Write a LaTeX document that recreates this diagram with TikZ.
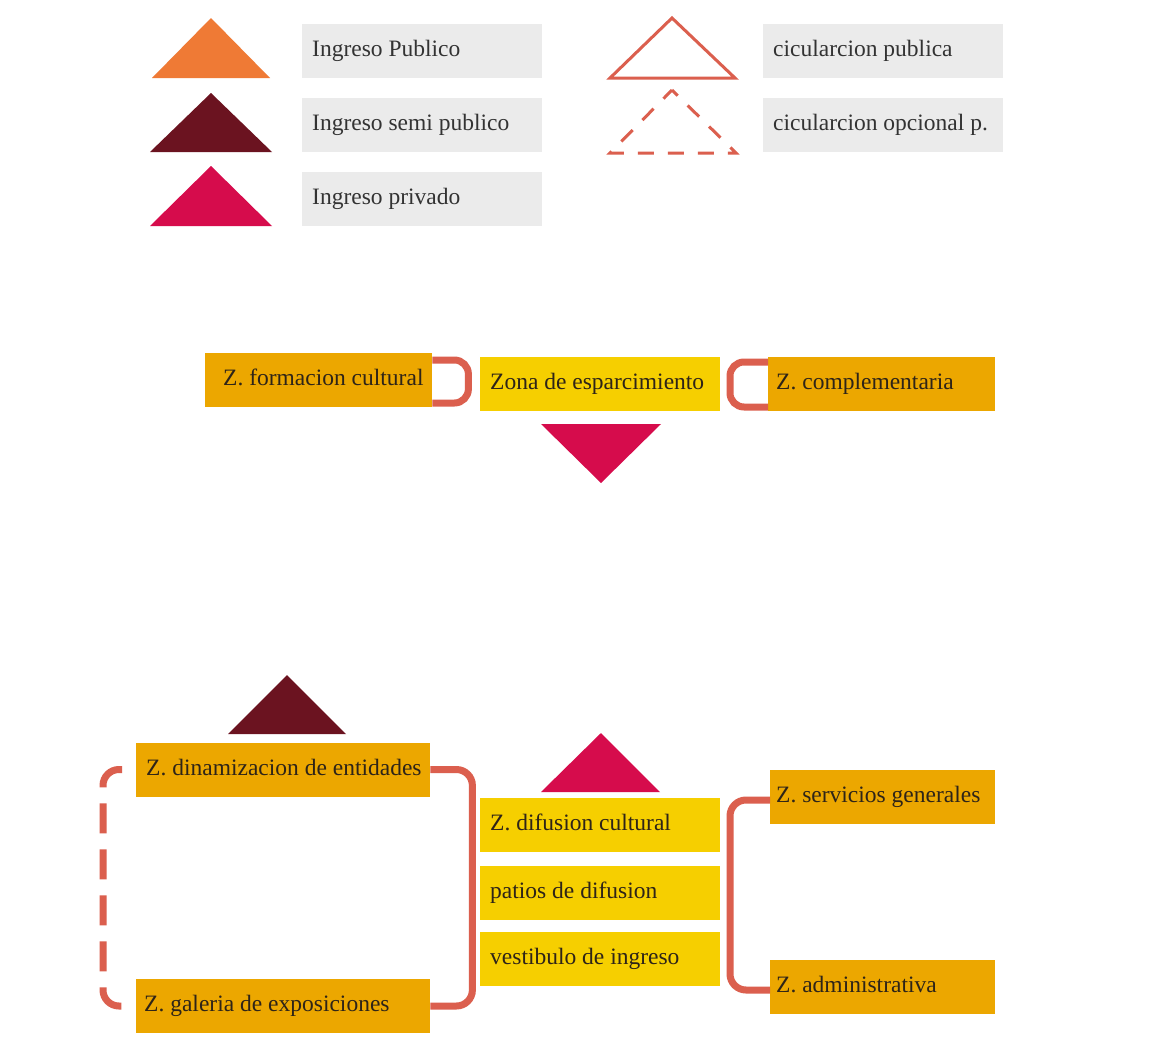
\documentclass[tikz,border=0pt]{standalone}
\usepackage{fontspec}
\setmainfont{Liberation Serif}
\definecolor{zorange}{HTML}{ECA700}
\definecolor{zyellow}{HTML}{F6CF00}
\definecolor{torange}{HTML}{EF7A35}
\definecolor{tmaroon}{HTML}{6B1320}
\definecolor{tcrimson}{HTML}{D60C4C}
\definecolor{lgrey}{HTML}{EBEBEB}
\definecolor{conncol}{HTML}{DB5F4E}
\definecolor{txt}{HTML}{2E2418}
\newcommand\bfs{\fontsize{23.5}{27}\selectfont}
\tikzset{
  zbox/.style={rectangle, inner xsep=0pt, inner ysep=0pt, minimum height=54pt,
    text height=16pt, text depth=5pt, anchor=west, text=txt, font=\bfs},
  obox/.style={zbox, fill=zorange},
  ybox/.style={zbox, fill=zyellow},
  gbox/.style={zbox, fill=lgrey, text=black!80},
  conn/.style={draw=conncol, line width=7pt},
}
\begin{document}
\begin{tikzpicture}[x=1pt,y=-1pt]
\fill[white] (0,0) rectangle (1173,1052);
\useasboundingbox (0,0) rectangle (1173,1052);

% legend
\fill[torange] (152,78) -- (270,78) -- (211,18) -- cycle;
\fill[tmaroon] (150,152) -- (272,152) -- (211,93) -- cycle;
\fill[tcrimson] (150,226) -- (272,226) -- (211,166) -- cycle;
\node[gbox, minimum width=240pt] (l1) at (302,51) {\makebox[240pt][l]{\hspace{10pt}Ingreso Publico}};
\node[gbox, minimum width=240pt] (l2) at (302,124.5) {\makebox[240pt][l]{\hspace{10pt}Ingreso semi publico}};
\node[gbox, minimum width=240pt] (l3) at (302,198.5) {\makebox[240pt][l]{\hspace{10pt}Ingreso privado}};
\draw[conncol, line width=3pt, line join=miter] (610,78) -- (735,78) -- (672,18) -- cycle;
\draw[conncol, line width=3pt, dash pattern=on 16pt off 14pt, dash phase=8pt] (672,90) -- (736,153) -- (610,153) -- cycle;
\node[gbox, minimum width=240pt] (l4) at (763,51) {\makebox[240pt][l]{\hspace{10pt}cicularcion publica}};
\node[gbox, minimum width=240pt] (l5) at (763,124.5) {\makebox[240pt][l]{\hspace{10pt}cicularcion opcional p.}};

% middle group
\node[obox, minimum width=227pt] (form) at (205,380) {\makebox[227pt][l]{\hspace{18pt}Z. formacion cultural}};
\node[ybox, minimum width=240pt] (zona) at (480,384) {\makebox[240pt][l]{\hspace{10pt}Zona de esparcimiento}};
\node[obox, minimum width=227pt] (comp) at (768,384) {\makebox[227pt][l]{\hspace{8pt}Z. complementaria}};
\draw[conn, rounded corners=14pt] ([yshift=20pt]form.east) -- ++(36pt,0) -- ++(0,-43pt) -- ++(-36pt,0);
\draw[conn, rounded corners=14pt] ([yshift=22pt]comp.west) -- ++(-38pt,0) -- ++(0,-45pt) -- ++(38pt,0);
\fill[tcrimson] (541,424) -- (661,424) -- (601,483) -- cycle;

% bottom group
\fill[tmaroon] (228,734) -- (346,734) -- (287,675) -- cycle;
\fill[tcrimson] (541,792) -- (660,792) -- (601,733) -- cycle;
\node[obox, minimum width=294pt] (dina) at (136,769.5) {\makebox[294pt][l]{\hspace{10pt}Z. dinamizacion de entidades}};
\node[obox, minimum width=294pt] (gal) at (136,1006) {\makebox[294pt][l]{\hspace{8pt}Z. galeria de exposiciones}};
\node[ybox, minimum width=240pt] (dif) at (480,825) {\makebox[240pt][l]{\hspace{10pt}Z. difusion cultural}};
\node[ybox, minimum width=240pt] (pat) at (480,893) {\makebox[240pt][l]{\hspace{10pt}patios de difusion}};
\node[ybox, minimum width=240pt] (vest) at (480,959) {\makebox[240pt][l]{\hspace{10pt}vestibulo de ingreso}};
\node[obox, minimum width=225pt] (serv) at (770,797) {\makebox[225pt][l]{\hspace{6pt}Z. servicios generales}};
\node[obox, minimum width=225pt] (adm) at (770,987) {\makebox[225pt][l]{\hspace{6pt}Z. administrativa}};

\draw[conn, rounded corners=16pt] (dina.east) -- ++(42pt,0) |- (gal.east);
\draw[conn, rounded corners=16pt, dash pattern=on 30pt off 16pt, dash phase=-14pt] (dina.west) -- ++(-33pt,0) |- (gal.west);
\draw[conn, rounded corners=16pt] ([yshift=-3pt]serv.west) -- ++(-40pt,0) |- ([yshift=-3pt]adm.west);
\end{tikzpicture}
\end{document}
